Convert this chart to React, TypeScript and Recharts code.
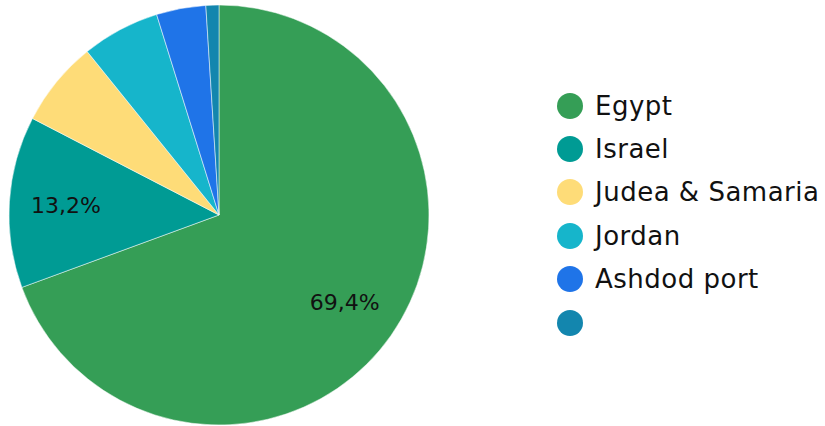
import { PieChart, Pie, Cell, Legend } from 'recharts'

const names = ['Egypt', 'Israel', 'Judea & Samaria', 'Jordan', 'Ashdod port', '']
const shares = [69.4, 13.2, 6.6, 6.0, 3.8, 1.0]
const colors = ['#359e56', '#009b94', '#fedc78', '#16b5cb', '#1f74e8', '#1386ae']

const data = names.map((name, i) => ({ name, value: shares[i] }))

const RADIAN = Math.PI / 180

function renderLabel({ cx, cy, midAngle, outerRadius, percent }: any) {
  if (percent < 0.1) return null
  const r = outerRadius * 0.73
  const x = cx + r * Math.cos(-midAngle * RADIAN)
  const y = cy + r * Math.sin(-midAngle * RADIAN)
  return (
    <text x={x} y={y} textAnchor="middle" dominantBaseline="central" fill="#111" fontSize={22}>
      {(percent * 100).toFixed(1).replace('.', ',') + '%'}
    </text>
  )
}

function renderLegend() {
  return (
    <div>
      {data.map((d, i) => (
        <div key={i} style={{ display: 'flex', alignItems: 'center', height: 43.4 }}>
          <span
            style={{
              display: 'inline-block',
              width: 26,
              height: 26,
              borderRadius: '50%',
              background: colors[i],
              marginRight: 12,
            }}
          />
          <span style={{ fontSize: 26, letterSpacing: 0.5, color: '#111', lineHeight: '26px' }}>{d.name}</span>
        </div>
      ))}
    </div>
  )
}

export default function App() {
  return (
    <div style={{ position: 'absolute', left: 0, top: 0, fontFamily: '"DejaVu Sans", Verdana, sans-serif' }}>
      <PieChart width={825} height={426} margin={{ top: 0, right: 0, bottom: 0, left: 0 }}>
        <Pie
          data={data}
          dataKey="value"
          nameKey="name"
          cx={219}
          cy={215}
          outerRadius={210}
          startAngle={90}
          endAngle={-270}
          stroke="#fff"
          strokeWidth={0.5}
          label={renderLabel}
          labelLine={false}
          isAnimationActive={false}
        >
          {data.map((_, i) => (
            <Cell key={i} fill={colors[i]} />
          ))}
        </Pie>
        <Legend
          content={renderLegend}
          wrapperStyle={{ left: 557, top: 84, width: 268 }}
        />
      </PieChart>
    </div>
  )
}
